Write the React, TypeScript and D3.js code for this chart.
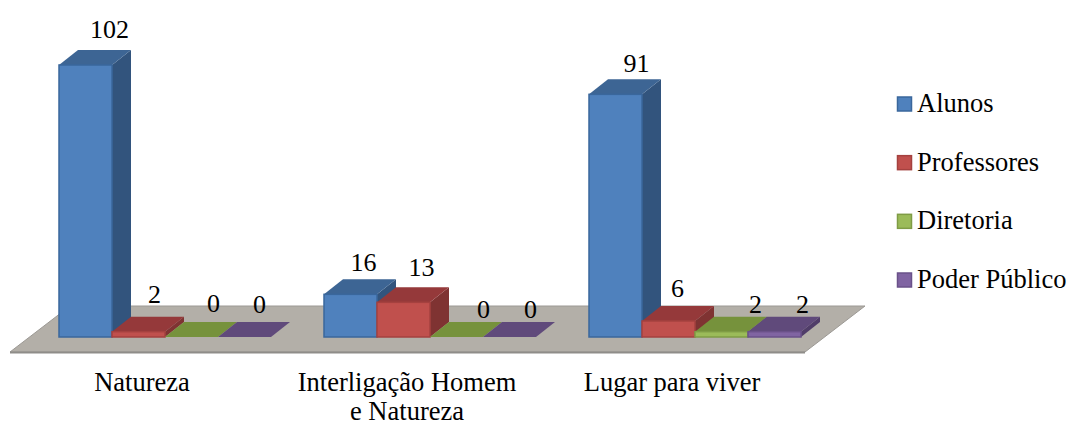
import React from 'react';
import * as d3 from 'd3';

const categories = [['Natureza'], ['Interligação Homem', 'e Natureza'], ['Lugar para viver']];
const seriesNames = ['Alunos', 'Professores', 'Diretoria', 'Poder Público'];
const alunos = [102, 16, 91];
const professores = [2, 13, 6];
const diretoria = [0, 0, 2];
const poderPublico = [0, 0, 2];
const seriesValues = [alunos, professores, diretoria, poderPublico];

const width = 1067;
const height = 423;
const floorFrontY = 352;
const floorDx = 60;
const floorDy = 46;
const baseY = 337;
const depthX = 19;
const depthY = 15;

// front, top, side, outline
const palette = [
  ['#4f81bd', '#3d6594', '#32547d', '#3a679c'],
  ['#c0504d', '#95393a', '#7f3332', '#a5413f'],
  ['#9bbb59', '#76923c', '#647d33', '#7f9c45'],
  ['#8064a2', '#604a7b', '#503d69', '#6a5189'],
];

// hand placed label nudges (the original labels do not sit on a regular grid)
const labelDx = [
  [24, 16, 22, 15],
  [13, 18, 27, 21],
  [21, 9, 34, 28],
];
const labelDy = [
  [12, 14, 10, 9],
  [8, 11, 4, 4],
  [7, 9, 4, 4],
];

const font = '"Liberation Serif", "Times New Roman", serif';

const poly = (pts: number[][]) => pts.map(p => p.join(',')).join(' ');

export default function App() {
  const x0 = d3.scaleBand<number>()
    .domain(d3.range(categories.length))
    .range([10, 805]);

  const x1 = d3.scaleBand<number>()
    .domain(d3.range(seriesNames.length))
    .range([49, 261]);

  const y = d3.scaleLinear().domain([0, 102]).range([baseY, 65]);

  const legendY = d3.scalePoint<string>()
    .domain(seriesNames)
    .range([104, 280]);

  const w = x1.bandwidth();

  return (
    <svg width={width} height={height} style={{ position: 'absolute', left: 0, top: 0 }}>
      <rect width={width} height={height} fill="#fff" />

      {/* floor */}
      <polygon
        points={poly([[10, floorFrontY], [805, floorFrontY], [805 + floorDx, floorFrontY - floorDy], [10 + floorDx, floorFrontY - floorDy]])}
        fill="#b3afa8"
        stroke="#9c9994"
        strokeWidth={1}
      />
      <rect x={10} y={floorFrontY - 0.5} width={795} height={2} fill="#8f8d89" />

      {categories.map((_, c) => (
        <g key={c}>
          {seriesNames.map((_, s) => {
            const v = seriesValues[s][c];
            const x = x0(c)! + x1(s)!;
            const top = y(v);
            const [front, topCol, side, line] = palette[s];
            return (
              <g key={s}>
                <polygon
                  points={poly([[x + w, baseY], [x + w + depthX, baseY - depthY], [x + w + depthX, top - depthY], [x + w, top]])}
                  fill={side}
                />
                <polygon
                  points={poly([[x, top], [x + w, top], [x + w + depthX, top - depthY], [x + depthX, top - depthY]])}
                  fill={topCol}
                />
                {v > 0 && (
                  <rect x={x} y={top} width={w} height={baseY - top} fill={front} stroke={line} strokeWidth={1.5} />
                )}
              </g>
            );
          })}
        </g>
      ))}

      {categories.map((_, c) =>
        seriesNames.map((_, s) => {
          const v = seriesValues[s][c];
          return (
            <text
              key={`${c}-${s}`}
              x={x0(c)! + x1(s)! + w / 2 + labelDx[c][s]}
              y={y(v) - depthY - labelDy[c][s]}
              textAnchor="middle"
              fontFamily={font}
              fontSize={26}
              fill="#000"
            >
              {v}
            </text>
          );
        })
      )}

      {categories.map((lines, c) => (
        <text
          key={c}
          y={390.5}
          textAnchor="middle"
          fontFamily={font}
          fontSize={26.5}
          fill="#000"
        >
          {lines.map((l, i) => (
            <tspan key={i} x={x0(c)! + x0.bandwidth() / 2 - 0.5} dy={i === 0 ? 0 : 29.5}>{l}</tspan>
          ))}
        </text>
      ))}

      {seriesNames.map((name, s) => (
        <g key={name} transform={`translate(897, ${legendY(name)})`}>
          <rect x={0.5} y={-7} width={14} height={14} fill={palette[s][0]} stroke={palette[s][3]} strokeWidth={1.5} />
          <text x={20} y={8} fontFamily={font} fontSize={26.5} fill="#000">{name}</text>
        </g>
      ))}
    </svg>
  );
}
